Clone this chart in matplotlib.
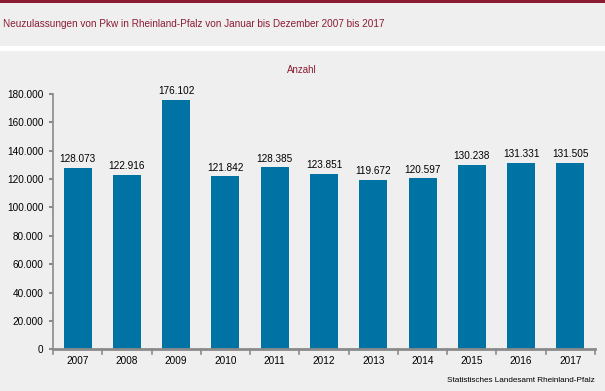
import matplotlib
matplotlib.use("Agg")
import matplotlib.pyplot as plt
from matplotlib.patches import Rectangle
from matplotlib.lines import Line2D

plt.rcParams['font.family'] = ['Liberation Sans', 'DejaVu Sans']

years = ['2007', '2008', '2009', '2010', '2011', '2012', '2013', '2014', '2015', '2016', '2017']
values = [128073, 122916, 176102, 121842, 128385, 123851, 119672, 120597, 130238, 131331, 131505]
labels = ['128.073', '122.916', '176.102', '121.842', '128.385', '123.851',
          '119.672', '120.597', '130.238', '131.331', '131.505']
yticks = [0, 20000, 40000, 60000, 80000, 100000, 120000, 140000, 160000, 180000]
ytick_labels = ['0', '20.000', '40.000', '60.000', '80.000', '100.000',
                '120.000', '140.000', '160.000', '180.000']

bg = '#EEEFEE'
red = '#8C1C33'
blue = '#0072A3'
grey = '#8A8A8A'

fig = plt.figure(figsize=(6.05, 3.91), dpi=100)
fig.patch.set_facecolor('white')

# panels
fig.add_artist(Rectangle((0, 1 - 46/391), 1, 46/391, transform=fig.transFigure,
                         facecolor=bg, edgecolor='none', zorder=0))
fig.add_artist(Rectangle((0, 0), 1, 1 - 51/391, transform=fig.transFigure,
                         facecolor=bg, edgecolor='none', zorder=0))
fig.add_artist(Rectangle((0, 1 - 3/391), 1, 3/391, transform=fig.transFigure,
                         facecolor=red, edgecolor='none', zorder=1))

fig.text(3/605, 1 - 24/391, 'Neuzulassungen von Pkw in Rheinland-Pfalz von Januar bis Dezember 2007 bis 2017',
         color=red, fontsize=7.2, va='center', ha='left')
fig.text(302/605, 1 - 70/391, 'Anzahl', color=red, fontsize=7, va='center', ha='center')
fig.text(595/605, 1 - 381/391, 'Statistisches Landesamt Rheinland-Pfalz',
         color='black', fontsize=5.9, va='center', ha='right')

ax = fig.add_axes([53/605, 1 - 349.3/391, 542/605, 255.3/391])
ax.set_facecolor('none')
x = list(range(len(years)))
ax.bar(x, values, width=0.57, color=blue, zorder=2)
for xi, v, lab in zip(x, values, labels):
    ax.text(xi, v + 2500, lab, ha='center', va='bottom', fontsize=7.2, clip_on=False)

ax.set_xlim(-0.5, len(years) - 0.5)
ax.set_ylim(0, 180000)
ax.set_yticks(yticks)
ax.set_yticklabels(ytick_labels, fontsize=7.2)
ax.set_xticks(x)
ax.set_xticklabels(years, fontsize=7.2)
ax.tick_params(axis='x', length=0, pad=5)
ax.tick_params(axis='y', length=3, width=1.5, color=grey, pad=4)
# category boundary ticks
for b in range(len(years) + 1):
    ax.add_line(Line2D([b - 0.5, b - 0.5], [0, -3000], color=grey, lw=1.2, clip_on=False))

for s in ['top', 'right']:
    ax.spines[s].set_visible(False)
ax.spines['left'].set_color(grey)
ax.spines['left'].set_linewidth(1.2)
ax.spines['bottom'].set_color(grey)
ax.spines['bottom'].set_linewidth(2)

fig.savefig('out.png', dpi=100, facecolor=fig.get_facecolor())
